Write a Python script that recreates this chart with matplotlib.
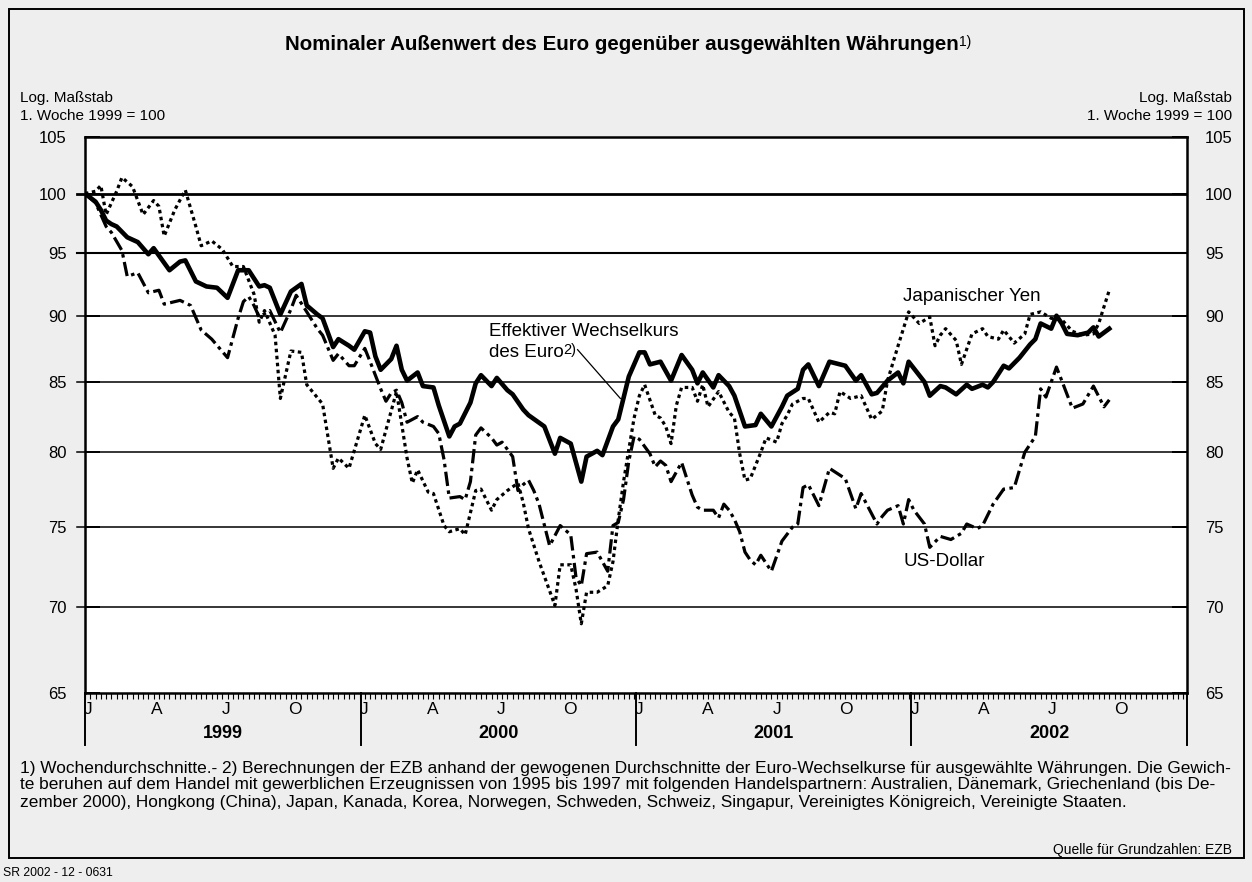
import matplotlib
matplotlib.use("Agg")
import matplotlib.pyplot as plt
from matplotlib.patches import Rectangle
import numpy as np

plt.rcParams['font.family'] = ['Liberation Sans', 'DejaVu Sans']

# weekly values, week 0 = first week of 1999 (=100)
euro_weeks = [0, 2, 3, 4, 5, 6, 8, 10, 12, 13, 16, 18, 19, 21, 23, 25, 27, 29, 31, 33,
              34, 35, 37, 39, 41, 42, 44, 45, 47, 48, 50, 51, 53, 54, 55, 56, 58, 59, 60, 61,
              63, 64, 66, 67, 69, 70, 71, 73, 74, 75, 77, 78, 80, 81, 83, 84, 87, 89, 90, 92,
              93, 94, 95, 97, 98, 100, 101, 103, 105, 106, 107, 109, 111, 113, 115, 116, 117, 119, 120, 122,
              123, 125, 127, 128, 130, 132, 133, 135, 136, 137, 139, 141, 143, 144, 146, 147, 149, 150, 152, 154,
              155, 156, 158, 159, 160, 162, 163, 165, 167, 168, 170, 171, 172, 174, 175, 177, 179, 180, 181, 183,
              184, 185, 186, 188, 190, 191, 192, 194]
euro_vals = [100.0, 99.3, 98.6, 97.7, 97.4, 97.2, 96.3, 95.9, 94.9, 95.4, 93.6, 94.3, 94.4, 92.7, 92.3, 92.2, 91.4, 93.6, 93.6, 92.3,
             92.4, 92.2, 90.1, 91.9, 92.5, 90.8, 90.1, 89.8, 87.6, 88.2, 87.7, 87.4, 88.8, 88.7, 86.9, 85.9, 86.7, 87.7, 85.9, 85.1,
             85.7, 84.7, 84.6, 83.3, 81.1, 81.8, 82.0, 83.5, 84.9, 85.5, 84.7, 85.3, 84.4, 84.1, 83.0, 82.6, 81.8, 79.9, 81.0, 80.6,
             79.3, 78.0, 79.7, 80.1, 79.8, 81.8, 82.3, 85.4, 87.2, 87.2, 86.3, 86.5, 85.1, 87.0, 85.9, 84.9, 85.7, 84.6, 85.5, 84.7,
             84.0, 81.8, 81.9, 82.7, 81.8, 83.2, 84.0, 84.5, 85.9, 86.3, 84.7, 86.5, 86.3, 86.2, 85.1, 85.5, 84.1, 84.2, 85.1, 85.7,
             84.9, 86.5, 85.5, 85.0, 84.0, 84.7, 84.6, 84.1, 84.8, 84.5, 84.8, 84.6, 85.0, 86.2, 86.0, 86.8, 87.8, 88.2, 89.4, 89.0,
             90.0, 89.4, 88.6, 88.5, 88.7, 89.1, 88.4, 89.0]

yen_weeks = [0, 2, 3, 4, 6, 7, 9, 11, 13, 14, 15, 17, 19, 21, 22, 24, 26, 28, 30, 32,
             33, 34, 36, 37, 39, 41, 42, 45, 47, 48, 50, 53, 55, 56, 59, 61, 62, 63, 65, 66,
             68, 69, 71, 72, 74, 75, 77, 78, 80, 82, 83, 84, 86, 89, 90, 92, 93, 94, 95, 97,
             99, 100, 101, 102, 103, 104, 105, 106, 108, 109, 110, 111, 112, 113, 115, 116, 117, 118, 120, 122,
             123, 124, 125, 126, 128, 129, 131, 132, 133, 134, 136, 137, 139, 141, 142, 143, 145, 147, 149, 151,
             152, 154, 156, 158, 160, 161, 162, 163, 165, 166, 168, 170, 171, 173, 174, 176, 178, 179, 181, 183,
             185, 187, 189, 191, 192, 193, 194]
yen_vals = [100.0, 100.2, 100.7, 98.2, 100.2, 101.4, 100.6, 98.2, 99.4, 98.9, 96.4, 98.6, 100.3, 97.2, 95.6, 96.0, 95.3, 93.9, 93.9, 91.7,
            89.5, 90.4, 88.5, 83.8, 87.3, 87.2, 84.8, 83.4, 78.9, 79.6, 78.9, 82.6, 80.6, 80.2, 84.3, 79.6, 77.9, 78.8, 77.3, 77.2,
            75.1, 74.7, 74.9, 74.5, 77.4, 77.5, 76.1, 76.8, 77.4, 77.9, 76.6, 74.9, 72.8, 70.1, 72.6, 72.6, 71.1, 69.0, 70.9, 70.9,
            71.3, 72.8, 75.5, 78.0, 80.2, 82.4, 84.0, 84.8, 82.6, 82.4, 81.8, 80.6, 83.3, 84.6, 84.6, 83.6, 84.8, 83.2, 84.3, 82.8,
            82.4, 79.9, 78.1, 78.2, 80.0, 81.0, 80.7, 82.0, 82.6, 83.4, 83.8, 83.8, 82.1, 82.8, 82.7, 84.3, 83.8, 84.0, 82.3, 82.9,
            85.1, 87.7, 90.3, 89.4, 89.9, 87.7, 88.5, 89.0, 88.1, 86.3, 88.6, 89.0, 88.4, 88.2, 88.9, 87.9, 88.6, 90.1, 90.3, 89.8,
            89.7, 88.8, 88.5, 88.6, 89.4, 90.7, 92.0]

usd_weeks = [0, 2, 4, 5, 7, 8, 10, 12, 14, 15, 18, 20, 22, 24, 27, 29, 30, 31, 32, 33,
             35, 37, 39, 40, 42, 44, 45, 47, 48, 50, 51, 53, 54, 56, 57, 58, 59, 60, 61, 63,
             64, 66, 67, 68, 69, 71, 72, 73, 74, 75, 77, 78, 79, 81, 82, 83, 84, 85, 86, 88,
             90, 92, 93, 94, 95, 97, 99, 100, 101, 102, 103, 104, 105, 107, 108, 109, 110, 111, 113, 115,
             116, 117, 119, 120, 121, 122, 123, 124, 125, 126, 127, 128, 130, 132, 134, 135, 136, 137, 139, 141,
             144, 146, 147, 150, 151, 152, 154, 155, 156, 157, 159, 160, 162, 164, 166, 167, 169, 170, 172, 174,
             176, 178, 180, 181, 182, 184, 185, 187, 189, 191, 193, 194]
usd_vals = [100.0, 99.2, 97.2, 96.7, 95.2, 93.1, 93.4, 91.8, 92.0, 90.9, 91.2, 90.8, 88.9, 88.2, 86.8, 89.8, 91.1, 91.5, 90.8, 89.9,
            90.4, 88.7, 90.5, 91.6, 90.3, 89.0, 88.5, 86.6, 87.1, 86.2, 86.2, 87.5, 86.5, 84.5, 83.6, 84.2, 84.4, 83.5, 82.1, 82.5,
            82.1, 81.8, 81.3, 79.5, 76.9, 77.0, 76.8, 78.0, 81.2, 81.7, 81.0, 80.5, 80.7, 79.7, 77.4, 77.8, 78.1, 77.4, 76.5, 73.8,
            75.1, 74.5, 71.8, 71.3, 73.3, 73.4, 72.2, 75.1, 75.3, 76.8, 79.4, 81.1, 80.9, 79.9, 79.0, 79.4, 79.1, 78.0, 79.3, 77.1,
            76.3, 76.1, 76.1, 75.6, 76.5, 76.1, 75.5, 74.7, 73.4, 72.9, 72.6, 73.2, 72.2, 74.1, 75.0, 75.2, 77.6, 77.8, 76.4, 78.9,
            78.2, 76.2, 77.2, 75.2, 75.7, 76.1, 76.4, 75.2, 76.8, 76.1, 75.2, 73.7, 74.4, 74.2, 74.6, 75.2, 74.9, 75.1, 76.5, 77.5,
            77.6, 80.0, 81.1, 84.5, 83.9, 86.1, 85.1, 83.1, 83.4, 84.7, 83.2, 83.7]

years = ['1999', '2000', '2001', '2002']
quarters = ['J', 'A', 'J', 'O']
y_ticks = [65, 70, 75, 80, 85, 90, 95, 100, 105]
grid_vals = [70, 75, 80, 85, 90, 95, 100]

title = 'Nominaler Außenwert des Euro gegenüber ausgewählten Währungen'
footnote = [
    '1) Wochendurchschnitte.- 2) Berechnungen der EZB anhand der gewogenen Durchschnitte der Euro-Wechselkurse für ausgewählte Währungen. Die Gewich-',
    'te beruhen auf dem Handel mit gewerblichen Erzeugnissen von 1995 bis 1997 mit folgenden Handelspartnern: Australien, Dänemark, Griechenland (bis De-',
    'zember 2000), Hongkong (China), Japan, Kanada, Korea, Norwegen, Schweden, Schweiz, Singapur, Vereinigtes Königreich, Vereinigte Staaten.',
]

W, H = 1252, 882
YEAR = 52.18


def fx(x):
    return x / W


def fy(y):
    return 1 - y / H


fig = plt.figure(figsize=(W / 100, H / 100), dpi=100, facecolor='#eeeeee')
fig.patches.append(Rectangle((fx(9), fy(858)), fx(1244) - fx(9), fy(9) - fy(858),
                             transform=fig.transFigure, fill=False, edgecolor='black', lw=1.4))

ax = fig.add_axes([fx(85), fy(693), fx(1187) - fx(85), fy(137) - fy(693)])
ax.set_facecolor('white')
ax.set_yscale('log')
ax.set_ylim(65, 105)
ax.set_xlim(0, 4 * YEAR)

# horizontal lines, with a short stub left of the axis
ytrans = ax.get_yaxis_transform()
ax_w = 1187 - 85
for v in grid_vals:
    lw = 2.0 if v == 100 else (1.5 if v == 95 else 1.1)
    ax.axhline(v, color='black', lw=lw, zorder=1)
    ax.plot([-8 / ax_w, 0], [v, v], transform=ytrans, color='black', lw=lw, clip_on=False)

ax.plot(euro_weeks, euro_vals, color='black', lw=3.3, solid_joinstyle='round', zorder=4)
ax.plot(yen_weeks, yen_vals, color='black', lw=2.3, linestyle=(0, (1.1, 1.1)), zorder=3)
ax.plot(usd_weeks, usd_vals, color='black', lw=2.3, linestyle=(0, (4.5, 1.4, 1.1, 1.4)), zorder=3)

# y axis
ax.yaxis.set_major_locator(plt.FixedLocator(y_ticks))
ax.yaxis.set_minor_locator(plt.NullLocator())
ax.yaxis.set_major_formatter(plt.FixedFormatter([str(v) for v in y_ticks]))
ax.tick_params(axis='y', which='major', direction='in', length=11, width=1.4,
               labelsize=12, left=True, right=True, labelleft=True, labelright=True, pad=13)
for t in ax.yaxis.get_major_ticks():
    if t.label1.get_text() == '100':
        t.label1.set_fontweight('bold')
        t.label2.set_fontweight('bold')

# x axis: weekly ticks, quarter and year labels
ax.xaxis.set_major_locator(plt.NullLocator())
ax.set_xticks(np.arange(0, 4 * YEAR, 1), minor=True)
ax.tick_params(axis='x', which='minor', direction='out', length=4, width=0.8)
ax.tick_params(axis='x', which='major', length=0)
ax.set_xticklabels([], minor=True)

trans = ax.get_xaxis_transform()
ax_h = 693 - 137
for i in range(5):
    ax.plot([i * YEAR, i * YEAR], [0, -52 / ax_h], transform=trans, color='black',
            lw=1.4, clip_on=False)
for i, yr in enumerate(years):
    ax.text((i + 0.5) * YEAR, -40 / ax_h, yr, transform=trans, ha='center', va='center',
            fontsize=13, fontweight='bold')
    for q, lab in enumerate(quarters):
        ax.text(i * YEAR + q * YEAR / 4 + 0.6, -17 / ax_h, lab, transform=trans,
                ha='center', va='center', fontsize=12.5)

for s in ['left', 'right', 'bottom', 'top']:
    ax.spines[s].set_linewidth(1.8)

# series labels
ax.text(76.5, 88.8, 'Effektiver Wechselkurs', fontsize=13.5, va='center', ha='left')
t_euro = ax.text(76.5, 87.2, 'des Euro', fontsize=13.5, va='center', ha='left')
ax.annotate('2)', xy=(1.0, 1.05), xycoords=t_euro, fontsize=10.5, va='top', ha='left')
ax.plot([93.3, 101.4], [87.4, 83.8], color='black', lw=0.9, zorder=5)
ax.text(155, 91.5, 'Japanischer Yen', fontsize=13.5, va='center', ha='left')
ax.text(155, 72.8, 'US-Dollar', fontsize=13.5, va='center', ha='left')

# header texts
t_title = fig.text(fx(622), fy(45), title, ha='center', va='center', fontsize=14.8, fontweight='bold')
ax.annotate('1)', xy=(1.0, 1.05), xycoords=t_title, fontsize=10, va='top', ha='left')
fig.text(fx(20), fy(98), 'Log. Maßstab', ha='left', va='center', fontsize=11)
fig.text(fx(20), fy(116), '1. Woche 1999 = 100', ha='left', va='center', fontsize=11)
fig.text(fx(1232), fy(98), 'Log. Maßstab', ha='right', va='center', fontsize=11)
fig.text(fx(1232), fy(116), '1. Woche 1999 = 100', ha='right', va='center', fontsize=11)

# footnote, sized so that the first (justified) line runs to the right edge
renderer = fig.canvas.get_renderer()
probe = fig.text(0, 0, footnote[0], fontsize=10)
w10 = probe.get_window_extent(renderer).width
probe.remove()
fs_note = 10 * (1212 / w10)
for k, line in enumerate(footnote):
    fig.text(fx(20), fy(768 + 17 * k), line, ha='left', va='center', fontsize=fs_note)
fig.text(fx(1232), fy(850), 'Quelle für Grundzahlen: EZB', ha='right', va='center', fontsize=10)
fig.text(fx(3), fy(873), 'SR 2002 - 12 - 0631', ha='left', va='center', fontsize=8.8)

fig.savefig('out.png', dpi=100, facecolor=fig.get_facecolor())
